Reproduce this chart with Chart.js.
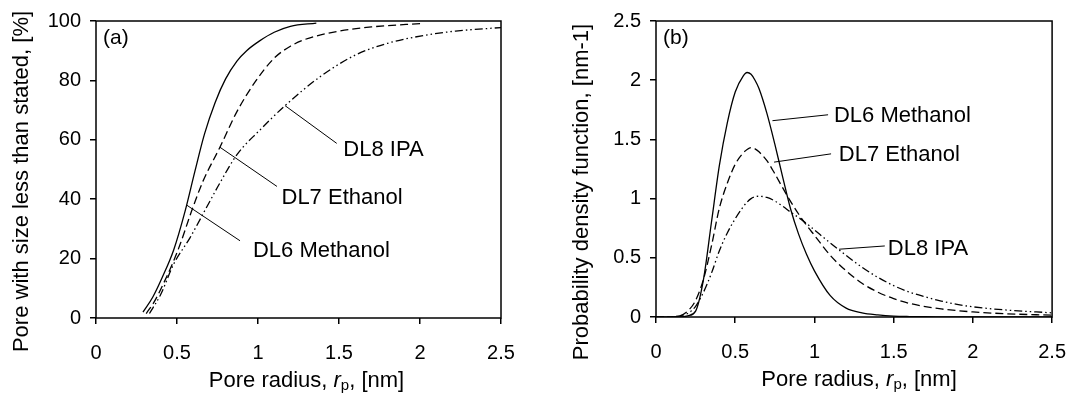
<!DOCTYPE html>
<html>
<head>
<meta charset="utf-8">
<script src="https://cdn.jsdelivr.net/npm/chart.js@4.4.1/dist/chart.umd.min.js"></script>
<style>
  body { margin: 0; background: #fff; }
  #wrap { position: relative; width: 1083px; height: 398px; overflow: hidden; }
  canvas { position: absolute; top: 0; }
  #cdfChart { left: 0; }
  #pdfChart { left: 541px; }
</style>
</head>
<body>
<div id="wrap">
  <canvas id="cdfChart" width="541" height="398"></canvas>
  <canvas id="pdfChart" width="542" height="398"></canvas>
</div>
<script>
const FONT = "Arial, 'Liberation Sans', sans-serif";

const seriesNames = ['DL6 Methanol', 'DL7 Ethanol', 'DL8 IPA'];

// (a) cumulative distribution, pore with size less than stated [%]
const cdfRadiusMethanol = [0.29, 0.35, 0.41, 0.48, 0.55, 0.61, 0.67, 0.735, 0.8, 0.87, 0.93, 1.01, 1.1, 1.2, 1.36];
const cdfMethanol       = [2, 7, 13.8, 23, 36, 49.3, 62, 72.5, 80.5, 86.5, 90, 93.3, 96.2, 98.2, 99.3];
const cdfRadiusEthanol  = [0.31, 0.36, 0.42, 0.47, 0.52, 0.59, 0.66, 0.765, 0.87, 0.98, 1.1, 1.2, 1.29, 1.5, 1.7, 2.02];
const cdfEthanol        = [1.5, 5.5, 12, 18, 24.9, 36, 46, 57.5, 69.5, 79.3, 87.5, 91.5, 93.8, 96.6, 98, 99.2];
const cdfRadiusIPA      = [0.33, 0.4, 0.48, 0.58, 0.68, 0.765, 0.87, 1.01, 1.167, 1.39, 1.6, 1.8, 2.01, 2.22, 2.5];
const cdfIPA            = [1.5, 8, 18.2, 27, 37, 45.5, 55, 63.2, 71.5, 81.5, 88.5, 92.5, 95, 96.6, 97.8];

// (b) probability density function [nm-1]
const pdfRadius   = [0, 0.1, 0.15, 0.2, 0.25, 0.3, 0.35, 0.4, 0.45, 0.5, 0.55, 0.575, 0.6, 0.625, 0.65, 0.7, 0.75, 0.8, 0.85, 0.9, 0.95, 1.0, 1.1, 1.2, 1.3, 1.4, 1.5, 1.6, 1.7, 1.8, 1.9, 2.0, 2.2, 2.5];
const pdfMethanol = [0, 0, 0, 0.01, 0.05, 0.32, 0.8, 1.28, 1.64, 1.9, 2.035, 2.065, 2.05, 2.0, 1.93, 1.72, 1.46, 1.18, 0.91, 0.7, 0.53, 0.39, 0.18, 0.075, 0.035, 0.018, 0.008, 0.004, 0.002, 0.001, 0, 0, 0, 0];
const pdfEthanol  = [0, 0, 0.01, 0.05, 0.14, 0.32, 0.6, 0.92, 1.13, 1.29, 1.385, 1.415, 1.43, 1.42, 1.395, 1.32, 1.21, 1.09, 0.975, 0.87, 0.775, 0.69, 0.52, 0.39, 0.285, 0.21, 0.155, 0.115, 0.088, 0.068, 0.054, 0.043, 0.028, 0.015];
const pdfIPA      = [0, 0.002, 0.01, 0.03, 0.09, 0.21, 0.37, 0.56, 0.71, 0.83, 0.93, 0.97, 1.0, 1.015, 1.02, 1.01, 0.98, 0.935, 0.885, 0.84, 0.79, 0.735, 0.625, 0.52, 0.42, 0.335, 0.265, 0.21, 0.17, 0.135, 0.107, 0.086, 0.06, 0.035];

const radiusTicks = [0, 0.5, 1, 1.5, 2, 2.5];
const cdfTicks = [0, 20, 40, 60, 80, 100];
const pdfTicks = [0, 0.5, 1, 1.5, 2, 2.5];

// solid, dashed, long-dash-dot-dot
const lineDash = [[], [8, 4], [8, 3, 1.5, 3, 1.5, 3]];

function toPoints(xs, ys) {
    return xs.map((r, i) => ({x: r, y: ys[i]}));
}

function makeDatasets(pairs) {
    return pairs.map(([xs, ys], i) => ({
        label: seriesNames[i],
        data: toPoints(xs, ys),
        borderColor: '#000',
        borderWidth: 1.3,
        borderDash: lineDash[i],
        pointRadius: 0,
        fill: false,
        cubicInterpolationMode: 'monotone'
    }));
}

// frame, panel letter, axis titles and the callout labels
const decorPlugin = {
    id: 'decor',
    afterDraw(chart, args, opts) {
        const {ctx, chartArea: a, scales: {x, y}} = chart;
        ctx.save();
        ctx.strokeStyle = '#000';
        ctx.lineWidth = 1.5;
        ctx.strokeRect(a.left, a.top, a.right - a.left, a.bottom - a.top);

        ctx.fillStyle = '#000';
        ctx.font = `21px ${FONT}`;
        ctx.textBaseline = 'middle';
        ctx.textAlign = 'left';
        ctx.fillText(opts.panel, a.left + 7, a.top + 17);

        // leader lines and series names
        ctx.font = `22px ${FONT}`;
        ctx.lineWidth = 1;
        opts.callouts.forEach(c => {
            ctx.beginPath();
            ctx.moveTo(x.getPixelForValue(c.from[0]), y.getPixelForValue(c.from[1]));
            ctx.lineTo(x.getPixelForValue(c.to[0]), y.getPixelForValue(c.to[1]));
            ctx.stroke();
            ctx.fillText(c.text, x.getPixelForValue(c.at[0]), y.getPixelForValue(c.at[1]));
        });

        // y axis title
        ctx.save();
        ctx.translate(a.left - 74, (a.top + a.bottom) / 2 + opts.yTitleShift);
        ctx.rotate(-Math.PI / 2);
        ctx.textAlign = 'center';
        ctx.fillText(opts.yTitle, 0, 0);
        ctx.restore();

        // x axis title with italic r and subscript p
        const parts = [
            {t: 'Pore radius, ', f: `22px ${FONT}`, dy: 0},
            {t: 'r', f: `italic 22px ${FONT}`, dy: 0},
            {t: 'p', f: `15px ${FONT}`, dy: 5},
            {t: ', [nm]', f: `22px ${FONT}`, dy: 0}
        ];
        let total = 0;
        parts.forEach(p => { ctx.font = p.f; p.w = ctx.measureText(p.t).width; total += p.w; });
        let px = (a.left + a.right) / 2 + opts.xTitleShift - total / 2;
        const py = a.bottom + 63;
        parts.forEach(p => {
            ctx.font = p.f;
            ctx.fillText(p.t, px, py + p.dy);
            px += p.w;
        });
        ctx.restore();
    }
};

function axisOptions(min, max, ticks, size) {
    return {
        type: 'linear',
        min: min,
        max: max,
        afterBuildTicks: axis => { axis.ticks = ticks.map(v => ({value: v})); },
        afterFit: scale => {
            if (scale.isHorizontal()) scale.height = size; else scale.width = size;
        },
        border: {display: false},
        grid: {drawOnChartArea: false, color: '#000', lineWidth: 1.5, tickLength: 6},
        ticks: {
            color: '#000',
            font: {family: FONT, size: 20},
            padding: 0,
            maxRotation: 0,
            autoSkip: false,
            callback: v => String(v)
        }
    };
}

function buildChart(id, datasets, yMax, yTicks, dims, decor) {
    const xAxis = axisOptions(0, 2.5, radiusTicks, dims.xHeight);
    xAxis.ticks.padding = 17;
    const yAxis = axisOptions(0, yMax, yTicks, dims.yWidth);
    yAxis.ticks.padding = 9;
    return new Chart(document.getElementById(id), {
        type: 'line',
        data: {datasets: datasets},
        options: {
            responsive: false,
            animation: false,
            layout: {padding: {left: 0, top: dims.top, right: dims.right, bottom: 0}},
            scales: {x: xAxis, y: yAxis},
            plugins: {
                legend: {display: false},
                tooltip: {enabled: false},
                decor: decor
            }
        },
        plugins: [decorPlugin]
    });
}

buildChart('cdfChart',
    makeDatasets([[cdfRadiusMethanol, cdfMethanol], [cdfRadiusEthanol, cdfEthanol], [cdfRadiusIPA, cdfIPA]]),
    100, cdfTicks,
    {top: 18, right: 40, xHeight: 80, yWidth: 96},
    {
        panel: '(a)',
        yTitle: 'Pore with size less than stated, [%]',
        yTitleShift: 12,
        xTitleShift: 8,
        callouts: [
            {text: seriesNames[2], from: [1.167, 71.5], to: [1.486, 58.8], at: [1.527, 56.7]},
            {text: seriesNames[1], from: [0.765, 57.5], to: [1.117, 44.3], at: [1.145, 40.4]},
            {text: seriesNames[0], from: [0.56, 38], to: [0.889, 26], at: [0.969, 22.7]}
        ]
    });

buildChart('pdfChart',
    makeDatasets([[pdfRadius, pdfMethanol], [pdfRadius, pdfEthanol], [pdfRadius, pdfIPA]]),
    2.5, pdfTicks,
    {top: 17, right: 21, xHeight: 81, yWidth: 115},
    {
        panel: '(b)',
        yTitle: 'Probability density function, [nm-1]',
        yTitleShift: 23,
        xTitleShift: 5,
        callouts: [
            {text: seriesNames[0], from: [0.735, 1.658], to: [1.086, 1.708], at: [1.123, 1.70]},
            {text: seriesNames[1], from: [0.745, 1.308], to: [1.105, 1.378], at: [1.154, 1.367]},
            {text: seriesNames[2], from: [1.156, 0.5725], to: [1.444, 0.60], at: [1.463, 0.575]}
        ]
    });
</script>
</body>
</html>
